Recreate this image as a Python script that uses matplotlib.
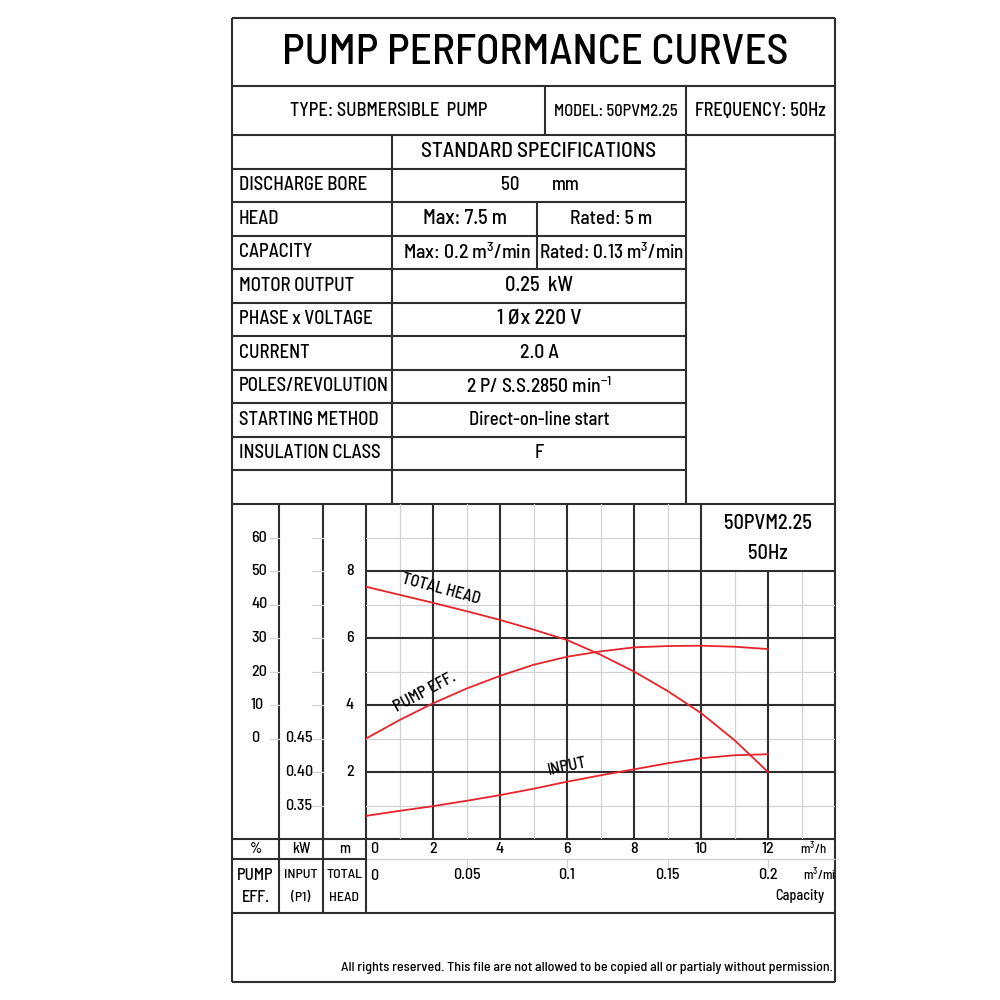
import matplotlib
matplotlib.use('Agg')
import matplotlib.pyplot as plt
from matplotlib import font_manager as fm
from matplotlib import transforms
from matplotlib.textpath import TextPath
from matplotlib.font_manager import FontProperties

# ---------------- data ----------------
flow_mh = [0, 1, 2, 3, 4, 5, 6, 7, 8, 9, 10, 11, 12]
total_head_m = [7.53, 7.29, 7.05, 6.80, 6.54, 6.25, 5.94, 5.50, 5.00, 4.42, 3.76, 2.95, 2.00]
pump_eff_pct = [0.0, 5.5, 10.5, 14.9, 18.7, 22.0, 24.4, 26.0, 27.2, 27.6, 27.7, 27.4, 26.7]
input_kw = [0.3345, 0.342, 0.349, 0.357, 0.3655, 0.375, 0.3855, 0.395, 0.404, 0.413, 0.4205, 0.425, 0.4265]

flow_mh_ticks = [0, 2, 4, 6, 8, 10, 12]
flow_min_ticks = [0, 0.05, 0.1, 0.15, 0.2]
flow_min_labels = ['0', '0.05', '0.1', '0.15', '0.2']
head_ticks = [2, 4, 6, 8]
eff_ticks = [0, 10, 20, 30, 40, 50, 60]
kw_ticks = [0.35, 0.40, 0.45]
kw_labels = ['0.35', '0.40', '0.45']

title = 'PUMP PERFORMANCE CURVES'
type_text = 'TYPE: SUBMERSIBLE  PUMP'
model_text = 'MODEL: 50PVM2.25'
freq_text = 'FREQUENCY: 50Hz'
spec_labels = ['', 'DISCHARGE BORE', 'HEAD', 'CAPACITY', 'MOTOR OUTPUT', 'PHASE x VOLTAGE',
               'CURRENT', 'POLES/REVOLUTION', 'STARTING METHOD', 'INSULATION CLASS', '']
spec_values = ['STANDARD SPECIFICATIONS', None, None, None, '0.25  kW', '1 Øx 220 V',
               '2.0 A', '2 P/ S.S.2850 min$^{-1}$', 'Direct-on-line start', 'F', '']
head_max, head_rated = 'Max: 7.5 m', 'Rated: 5 m'
cap_max, cap_rated = 'Max: 0.2 m$^3$/min', 'Rated: 0.13 m$^3$/min'
footer = 'All rights reserved. This file are not allowed to be copied all or partialy without permission.'
model_box = ['50PVM2.25', '50Hz']

# ---------------- font choice ----------------
names = {f.name for f in fm.fontManager.ttflist}
cands = ['Liberation Sans Narrow', 'Arial Narrow', 'Roboto Condensed', 'PT Sans Narrow',
         'Archivo Narrow', 'Pragati Narrow', 'IBM Plex Sans Condensed', 'Fira Sans Condensed',
         'Sofia Sans Condensed', 'Barlow Semi Condensed', 'Encode Sans Condensed', 'Asap Condensed']
FONT, best = 'Liberation Sans', 1e9
for c in cands:
    if c in names:
        try:
            fp = FontProperties(family=c)
            w = TextPath((0, 0), title, size=100, prop=fp).get_extents().width
            h = TextPath((0, 0), 'H', size=100, prop=fp).get_extents().height
            sc = abs(w / h - 16.3)
            if sc < best:
                best, FONT = sc, c
        except Exception:
            pass
plt.rcParams['font.family'] = [FONT, 'DejaVu Sans']
plt.rcParams['font.weight'] = 500
plt.rcParams['mathtext.default'] = 'regular'
_fp = FontProperties(family=FONT, weight=500)
CAP = TextPath((0, 0), 'H', size=100, prop=_fp).get_extents().height / 100.0

# conversions of secondary scales onto the head axis
def eff_to_y(e):
    return 3 + e / 10.0

def kw_to_y(k):
    return (k - 0.30) / 0.05

# ---------------- figure ----------------
fig = plt.figure(figsize=(10, 10), dpi=100)
renderer = fig.canvas.get_renderer()

def size_for(s, target_w):
    t = fig.text(0, 0, s, fontsize=10)
    w = t.get_window_extent(renderer).width
    t.remove()
    return 10.0 * target_w / max(w, 1e-6)

def size_h(cap_px):
    return cap_px * 0.72 / CAP

ax0 = fig.add_axes([0, 0, 1, 1])
ax0.set_xlim(0, 1000)
ax0.set_ylim(1000, 0)
ax0.axis('off')

def ftext(x, y, s, w, **kw):
    return ax0.text(x, y, s, fontsize=size_for(s, w), va='center', **kw)

DARK = '#2e2e2e'
LIGHT = '#d2d2d2'
RED = '#e8232b'
LW = 1.5

def hl(y, x1, x2, c=DARK, lw=LW):
    ax0.plot([x1, x2], [y, y], color=c, lw=lw, solid_capstyle='butt')

def vl(x, y1, y2, c=DARK, lw=LW):
    ax0.plot([x, x], [y1, y2], color=c, lw=lw, solid_capstyle='butt')

L, R, T, B = 232, 835, 18, 982
hl(T, L, R); hl(B, L, R); vl(L, T, B); vl(R, T, B)
hl(86, L, R)
hl(135, L, R)
vl(545, 86, 135)
vl(686, 86, 503.5)
vl(392, 135, 503.5)
row_h = 33.5
rows_top = 135
for i in range(1, 11):
    hl(rows_top + i * row_h, L, 686)
hl(503.5, L, R)
vl(537, rows_top + 2 * row_h, rows_top + 4 * row_h)

ftext(535, 53, title, 506, ha='center')
ftext((L + 545) / 2, 111, type_text, 197, ha='center')
ftext((545 + 686) / 2, 111, model_text, 124, ha='center')
ftext((686 + R) / 2, 111, freq_text, 131, ha='center')

label_w = {'DISCHARGE BORE': 128, 'HEAD': 46, 'CAPACITY': 83, 'MOTOR OUTPUT': 114,
           'PHASE x VOLTAGE': 138, 'CURRENT': 81, 'POLES/REVOLUTION': 144,
           'STARTING METHOD': 137, 'INSULATION CLASS': 136}
label_sizes = [size_for(k, v) for k, v in label_w.items()]
S_LAB = sorted(label_sizes)[len(label_sizes) // 2]
value_w = {'STANDARD SPECIFICATIONS': 236, '0.25  kW': 68, '1 Øx 220 V': 84, '2.0 A': 39,
           '2 P/ S.S.2850 min$^{-1}$': 147, 'Direct-on-line start': 141, 'F': 8}
for i, (lab, val) in enumerate(zip(spec_labels, spec_values)):
    yc = rows_top + (i + 0.5) * row_h
    if lab:
        ax0.text(239, yc, lab, fontsize=S_LAB, ha='left', va='center')
    if val:
        if val in ('F',):
            ax0.text(539, yc, val, fontsize=S_LAB, ha='center', va='center')
        else:
            ftext(539, yc, val, value_w[val], ha='center')
yc = rows_top + 1.5 * row_h
ax0.text(510, yc, '50', fontsize=S_LAB, ha='center', va='center')
ax0.text(566, yc, 'mm', fontsize=S_LAB, ha='center', va='center')
yc = rows_top + 2.5 * row_h
ftext(465, yc, head_max, 84, ha='center')
ftext(611, yc, head_rated, 82, ha='center')
yc = rows_top + 3.5 * row_h
ftext(467.5, yc, cap_max, 129, ha='center')
ftext(612, yc, cap_rated, 146, ha='center')

# chart frame lines
hl(839, L, R)
hl(859, L, 366)
hl(859, 366, R, c=LIGHT, lw=1.0)
hl(913, L, R)
vl(279, 503.5, 913)
vl(323, 503.5, 913)
vl(366, 503.5, 913)

ftext(833, 968, footer, 491, ha='right')

# ---------------- chart axes ----------------
ax = fig.add_axes([0.366, 0.161, 0.469, 0.335])
ax.set_xlim(0, 14)
ax.set_ylim(0, 10)
ax.axis('off')

for x in [1, 3, 5, 7, 9, 11, 13]:
    ax.plot([x, x], [0, 10 if x < 10 else 8], color=LIGHT, lw=0.9, zorder=1)
for y in [1, 3, 5, 7, 9]:
    ax.plot([0, 10 if y > 8 else 14], [y, y], color=LIGHT, lw=0.9, zorder=1)
for x in [2, 4, 6, 8, 10]:
    ax.plot([x, x], [0, 10], color=DARK, lw=LW, zorder=2, solid_capstyle='butt')
ax.plot([12, 12], [0, 8], color=DARK, lw=LW, zorder=2, solid_capstyle='butt')
for y in head_ticks:
    ax.plot([0, 14], [y, y], color=DARK, lw=LW, zorder=2, solid_capstyle='butt')

ax.plot(flow_mh, total_head_m, color=RED, lw=1.3, zorder=3)
ax.plot(flow_mh, [eff_to_y(e) for e in pump_eff_pct], color=RED, lw=1.3, zorder=3)
ax.plot(flow_mh, [kw_to_y(k) for k in input_kw], color=RED, lw=1.3, zorder=3)

S_CURVE = size_h(11.5)
ax.text(2.25, 7.45, 'TOTAL HEAD', fontsize=S_CURVE, rotation=-15, ha='center', va='center')
ax.text(1.75, 4.4, 'PUMP EFF.', fontsize=S_CURVE, rotation=28, ha='center', va='center')
ax.text(6.0, 2.15, 'INPUT', fontsize=S_CURVE, rotation=12, ha='center', va='center')

S_BOX = size_for(model_box[0], 88)
ax.text(12.0, 9.42, model_box[0], fontsize=S_BOX, ha='center', va='center')
ax.text(12.0, 8.52, model_box[1], fontsize=S_BOX, ha='center', va='center')

clip = transforms.TransformedBbox(transforms.Bbox([[0, 0], [834, 1000]]), ax0.transData)

S_NUM = size_h(11.2)
tx = transforms.blended_transform_factory(ax.transData, ax0.transData)
for v in flow_mh_ticks:
    if v == 0:
        ax.text(v + 0.12, 849, str(v), transform=tx, fontsize=S_NUM, ha='left', va='center', clip_on=False)
    else:
        ax.text(v, 849, str(v), transform=tx, fontsize=S_NUM, ha='center', va='center', clip_on=False)
S_UNIT = size_h(9)
ax.text(13.35, 849, 'm$^3$/h', transform=tx, fontsize=S_UNIT, ha='center', va='center', clip_on=False)
for v, lab in zip(flow_min_ticks, flow_min_labels):
    x = v * 60
    if v == 0:
        ax.text(x + 0.12, 876, lab, transform=tx, fontsize=S_NUM, ha='left', va='center', clip_on=False)
    else:
        ax0.plot([x, x], [859, 867], transform=tx, color=LIGHT, lw=0.9)
        ax.text(x, 875, lab, transform=tx, fontsize=S_NUM, ha='center', va='center', clip_on=False)
tm = ax.text(13.05, 875, 'm$^3$/min', transform=tx, fontsize=S_UNIT, ha='left', va='center', clip_on=True)
tm.set_clip_box(clip)
ax.text(12.95, 896, 'Capacity', transform=tx, fontsize=size_h(10), ha='center', va='center', clip_on=False)

S_LEFT = size_h(11.2)
ty = transforms.blended_transform_factory(ax0.transData, ax.transData)
for e in eff_ticks:
    y = eff_to_y(e)
    ax0.text(251, y, str(e), transform=ty, fontsize=S_LEFT, ha='left', va='center')
    ax0.plot([270, 279], [y, y], transform=ty, color=LIGHT, lw=0.9)
for k, lab in zip(kw_ticks, kw_labels):
    ax0.text(285, kw_to_y(k), lab, transform=ty, fontsize=S_LEFT, ha='left', va='center')
for y in range(1, 10):
    ax0.plot([312, 323], [y, y], transform=ty, color=LIGHT, lw=0.9)
for h in head_ticks:
    ax0.text(354, h, str(h), transform=ty, fontsize=S_LEFT, ha='right', va='center')

ax0.text(255.5, 849, '%', fontsize=size_h(10.5), ha='center', va='center')
ax0.text(301, 849, 'kW', fontsize=size_h(10.5), ha='center', va='center')
ax0.text(344.5, 849, 'm', fontsize=size_h(10.5), ha='center', va='center')
S_P = min(size_h(11.5), size_for('PUMP', 40))
ax0.text(255.5, 876, 'PUMP', fontsize=S_P, ha='center', va='center')
ax0.text(255.5, 898, 'EFF.', fontsize=S_P, ha='center', va='center')
S_C = min(size_h(11.5), size_for('TOTAL', 36))
ax0.text(301, 875, 'INPUT', fontsize=S_C, ha='center', va='center')
ax0.text(301, 898, '(P1)', fontsize=S_C, ha='center', va='center')
ax0.text(344.5, 875, 'TOTAL', fontsize=S_C, ha='center', va='center')
ax0.text(344.5, 898, 'HEAD', fontsize=S_C, ha='center', va='center')

fig.savefig('out.png', dpi=100, facecolor='white')
